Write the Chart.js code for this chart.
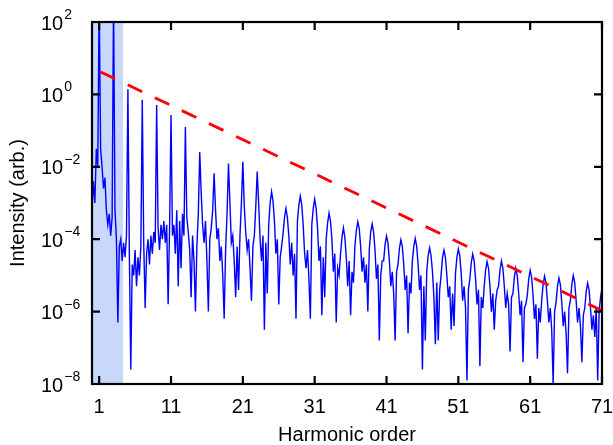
<!DOCTYPE html>
<html>
<head>
<meta charset="utf-8">
<script src="https://cdn.jsdelivr.net/npm/chart.js@4.4.1/dist/chart.umd.min.js"></script>
<style>
  html, body { margin: 0; padding: 0; background: #fff; }
  #wrap { width: 613px; height: 445px; }
</style>
</head>
<body>
<div id="wrap"><canvas id="hhgChart" width="613" height="445"></canvas></div>
<script>
// spectrum every 0.2 harmonic orders starting at 0, stored as log10(intensity)
const sampleStep = 0.2;
const spectrumLog = [
  -3.2, -2.4, -3.0, -1.5, -2.0,
  2.6, -1.5, -2.0, -2.6, -2.3, -3.2, -3.6, -3.3, -3.9, -3.4,        // 1
  2.6, -3.2, -4.0, -6.3, -4.2, -4.0, -4.6, -4.1, -4.5, -3.9,        // 3
  0.14, -4.4, -7.6, -4.7, -5.0, -4.3, -5.3, -4.5, -5.0, -4.2,       // 5
  -0.15, -4.1, -5.9, -4.4, -4.0, -4.7, -3.9, -4.4, -3.8, -4.1,      // 7
  -0.29, -3.7, -4.3, -3.6, -4.0, -3.5, -4.1, -3.6, -5.8, -3.7,      // 9
  -0.57, -3.9, -3.6, -4.4, -3.2, -5.3, -3.5, -4.8, -3.3, -3.9,      // 11
  -0.90, -3.4, -3.8, -4.3, -5.6, -3.9, -4.6, -6.0, -4.2, -3.3,      // 13
  -1.59, -2.7, -3.6, -4.1, -3.5, -4.6, -6.0, -4.0, -3.7, -3.2,      // 15
  -2.18, -3.2, -4.0, -3.7, -4.6, -4.2, -5.0, -6.2, -4.3, -3.3,      // 17
  -1.91, -3.0, -4.1, -3.9, -4.6, -5.6, -4.2, -5.4, -3.9, -3.0,      // 19
  -1.86, -3.1, -3.8, -4.3, -4.0, -4.8, -5.7, -4.2, -3.9, -3.1,      // 21
  -2.13, -3.0, -4.0, -4.6, -3.9, -6.5, -4.1, -5.5, -3.6, -3.0,      // 23
  -2.69, -2.95, -3.5, -4.4, -4.0, -5.8, -4.5, -4.2, -3.85, -3.4,    // 25
  -3.15, -3.4, -3.9, -4.7, -4.1, -5.0, -4.4, -6.2, -3.5, -3.05,     // 27
  -2.81, -3.05, -3.6, -4.4, -4.8, -4.3, -5.1, -6.2, -3.6, -3.15,    // 29
  -2.89, -3.15, -3.7, -4.6, -4.2, -6.1, -4.5, -5.6, -4.0, -3.55,    // 31
  -3.28, -3.5, -4.0, -4.9, -4.4, -6.3, -4.8, -5.0, -4.4, -3.95,     // 33
  -3.69, -3.95, -4.5, -5.3, -4.6, -6.1, -4.9, -5.2, -4.2, -3.75,    // 35
  -3.52, -3.7, -4.2, -4.9, -4.5, -5.2, -4.7, -6.0, -4.3, -3.8,      // 37
  -3.58, -3.8, -4.3, -5.1, -4.7, -6.8, -5.0, -4.6, -4.6, -4.15,     // 39
  -3.91, -4.1, -4.6, -5.3, -4.9, -5.5, -6.8, -4.9, -4.7, -4.25,     // 41
  -4.02, -4.2, -4.7, -5.4, -5.0, -6.6, -5.2, -5.5, -4.6, -4.2,      // 43
  -3.98, -4.2, -4.7, -5.4, -5.0, -7.6, -5.3, -6.8, -4.9, -4.45,     // 45
  -4.24, -4.45, -4.9, -5.6, -6.9, -5.2, -6.8, -5.4, -5.0, -4.5,     // 47
  -4.30, -4.5, -5.0, -5.6, -5.3, -6.5, -5.5, -6.4, -4.95, -4.5,     // 49
  -4.27, -4.45, -4.95, -5.7, -5.3, -5.9, -7.9, -5.4, -5.1, -4.65,   // 51
  -4.41, -4.6, -5.1, -5.8, -5.4, -7.5, -5.6, -5.9, -5.3, -4.85,     // 53
  -4.62, -4.8, -5.3, -6.0, -5.5, -6.5, -5.7, -5.4, -5.3, -4.85,     // 55
  -4.60, -4.8, -5.3, -5.9, -5.5, -5.8, -7.1, -5.6, -5.5, -5.05,     // 57
  -4.80, -5.0, -5.5, -6.1, -5.7, -7.4, -5.9, -5.8, -5.55, -5.1,     // 59
  -4.86, -5.05, -5.55, -6.2, -5.8, -7.3, -5.9, -6.3, -5.7, -5.25,   // 61
  -5.02, -5.2, -5.7, -6.3, -5.9, -6.5, -8.0, -6.0, -5.75, -5.3,     // 63
  -5.07, -5.25, -5.75, -6.4, -6.0, -6.6, -7.7, -5.9, -5.7, -5.25,   // 65
  -5.00, -5.2, -5.7, -6.3, -5.9, -6.4, -7.4, -6.1, -5.9, -5.45,     // 67
  -5.21, -5.4, -5.9, -6.5, -6.1, -6.7, -5.9, -7.9, -6.0, -5.6,      // 69
  -5.35                                                              // 71
];

// red dashed cutoff guide
const fitOrders = [1.2, 71];
const fitLog = [0.62, -5.97];

// shaded low-order band
const shadeOrders = [0, 4.35];

const xTicks = [1, 11, 21, 31, 41, 51, 61, 71];
const yTickExponents = [2, 0, -2, -4, -6, -8];

const spectrumPoints = spectrumLog.map((v, i) => ({ x: i * sampleStep, y: Math.pow(10, v) }));
const fitPoints = fitOrders.map((o, i) => ({ x: o, y: Math.pow(10, fitLog[i]) }));
const shadePoints = shadeOrders.map(o => ({ x: o, y: 1e2 }));

const FONT = "'Liberation Sans', Arial, Helvetica, sans-serif";

const axesPlugin = {
  id: "axesPlugin",
  afterDraw(chart) {
    const ctx = chart.ctx;
    const area = chart.chartArea;
    const xs = chart.scales.x;
    const ys = chart.scales.y;
    ctx.save();
    ctx.strokeStyle = "#000";
    ctx.lineWidth = 2.2;
    ctx.strokeRect(area.left, area.top, area.right - area.left, area.bottom - area.top);
    ctx.beginPath();
    xTicks.forEach(t => {
      const px = xs.getPixelForValue(t);
      ctx.moveTo(px, area.bottom); ctx.lineTo(px, area.bottom - 8);
      ctx.moveTo(px, area.top); ctx.lineTo(px, area.top + 8);
    });
    yTickExponents.forEach(e => {
      const py = ys.getPixelForValue(Math.pow(10, e));
      ctx.moveTo(area.left, py); ctx.lineTo(area.left + 8, py);
      ctx.moveTo(area.right, py); ctx.lineTo(area.right - 8, py);
    });
    ctx.stroke();

    ctx.fillStyle = "#000";
    ctx.textBaseline = "alphabetic";
    ctx.font = "20px " + FONT;
    ctx.textAlign = "center";
    xTicks.forEach(t => ctx.fillText(String(t), xs.getPixelForValue(t), area.bottom + 29));

    ctx.textAlign = "left";
    yTickExponents.forEach(e => {
      const py = ys.getPixelForValue(Math.pow(10, e));
      ctx.font = "20px " + FONT;
      ctx.fillText("10", 41, py + 7.5);
      const w = ctx.measureText("10").width;
      ctx.font = "14px " + FONT;
      ctx.fillText(e < 0 ? "\u2212" + Math.abs(e) : String(e), 41 + w + 1, py - 3);
    });

    ctx.font = "20px " + FONT;
    ctx.textAlign = "center";
    ctx.fillText("Harmonic order", (area.left + area.right) / 2, 441);
    ctx.translate(24, (area.top + area.bottom) / 2);
    ctx.rotate(-Math.PI / 2);
    ctx.fillText("Intensity (arb.)", 0, 0);
    ctx.restore();
  }
};

new Chart(document.getElementById("hhgChart"), {
  type: "line",
  data: {
    datasets: [
      {
        label: "cutoff",
        data: fitPoints,
        borderColor: "#ff0000",
        borderWidth: 2.8,
        borderDash: [16, 14],
        pointRadius: 0,
        fill: false
      },
      {
        label: "spectrum",
        data: spectrumPoints,
        borderColor: "#0000ff",
        borderWidth: 1.4,
        pointRadius: 0,
        tension: 0,
        fill: false
      },
      {
        label: "band",
        data: shadePoints,
        borderWidth: 0,
        borderColor: "rgba(0,0,0,0)",
        backgroundColor: "#c8d7fa",
        pointRadius: 0,
        fill: "start"
      }
    ]
  },
  options: {
    responsive: false,
    animation: false,
    layout: { padding: { left: 92, right: 11, top: 22, bottom: 61 } },
    plugins: { legend: { display: false }, tooltip: { enabled: false } },
    scales: {
      x: { type: "linear", min: 0, max: 71, display: false },
      y: { type: "logarithmic", min: 1e-8, max: 1e2, display: false }
    }
  },
  plugins: [axesPlugin]
});
</script>
</body>
</html>
